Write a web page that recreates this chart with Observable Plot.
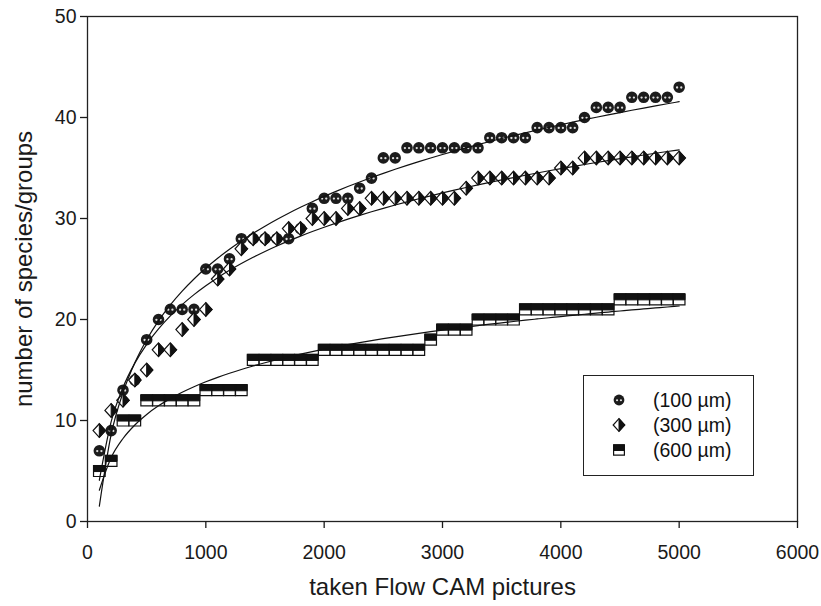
<!DOCTYPE html>
<html><head><meta charset="utf-8">
<script src="https://cdn.jsdelivr.net/npm/d3@7"></script>
<script src="https://cdn.jsdelivr.net/npm/@observablehq/plot@0.6"></script>
<style>
body{margin:0;background:#fff;}
#wrap{position:relative;width:821px;height:606px;font-family:"Liberation Sans",Arial,sans-serif;}
#legend{position:absolute;left:583px;top:375px;width:171px;height:101px;border:1.5px solid #222;box-sizing:border-box;background:#fff;}
.row{position:absolute;left:0;height:24px;font-size:19.5px;color:#111;}
.row svg{position:absolute;left:23px;top:0;}
.row span{position:absolute;left:69px;top:0;line-height:24px;white-space:nowrap;}
</style></head><body><div id="wrap"></div>
<script>
const pictures = [100,200,300,400,500,600,700,800,900,1000,1100,1200,1300,1400,1500,1600,1700,1800,1900,2000,2100,2200,2300,2400,2500,2600,2700,2800,2900,3000,3100,3200,3300,3400,3500,3600,3700,3800,3900,4000,4100,4200,4300,4400,4500,4600,4700,4800,4900,5000];
const s100 = [7,9,13,14,18,20,21,21,21,25,25,26,28,28,28,28,28,29,31,32,32,32,33,34,36,36,37,37,37,37,37,37,37,38,38,38,38,39,39,39,39,40,41,41,41,42,42,42,42,43];
const s300 = [9,11,12,14,15,17,17,19,20,21,24,25,27,28,28,28,29,29,30,30,30,31,31,32,32,32,32,32,32,32,32,33,34,34,34,34,34,34,34,35,35,36,36,36,36,36,36,36,36,36];
const s600 = [5,6,10,10,12,12,12,12,12,13,13,13,13,16,16,16,16,16,16,17,17,17,17,17,17,17,17,17,18,19,19,19,20,20,20,20,21,21,21,21,21,21,21,21,22,22,22,22,22,22];
const seriesNames = ["(100 µm)", "(300 µm)", "(600 µm)"];
const xTicks = [0,1000,2000,3000,4000,5000,6000];
const yTicks = [0,10,20,30,40,50];
const xLabel = "taken Flow CAM pictures";
const yLabel = "number of species/groups";

const rows = pictures.map((x, i) => ({x, a: s100[i], b: s300[i], c: s600[i]}));

// logarithmic least-squares fit y = a + b ln(x), computed from the data
function logFit(ys) {
  const lx = pictures.map(Math.log);
  const mx = d3.mean(lx), my = d3.mean(ys);
  let sxy = 0, sxx = 0;
  lx.forEach((v, i) => { sxy += (v - mx) * (ys[i] - my); sxx += (v - mx) * (v - mx); });
  const b = sxy / sxx, a = my - b * mx;
  return pictures.map(x => a + b * Math.log(x));
}
const fitA = logFit(s100), fitB = logFit(s300), fitC = logFit(s600);

const rOf = s => Math.sqrt(s / Math.PI);
const symCircle = {draw(c, s){const r = rOf(s); c.moveTo(r, 0); c.arc(0, 0, r, 0, 2*Math.PI); c.closePath();}};
const symSpots = {draw(c, s){const r = rOf(s); const q = r*0.2; for (const dx of [-0.36*r, 0.36*r]) { c.moveTo(dx + q, 0.05*r); c.arc(dx, 0.05*r, q, 0, 2*Math.PI); c.closePath(); }}};
const symDiamond = {draw(c, s){const r = rOf(s); const w = r*1.08, h = r*1.18; c.moveTo(0, -h); c.lineTo(w, 0); c.lineTo(0, h); c.lineTo(-w, 0); c.closePath();}};
const symDiamondR = {draw(c, s){const r = rOf(s); const w = r*1.08, h = r*1.18; c.moveTo(0, -h); c.lineTo(w, 0); c.lineTo(0, h); c.closePath();}};
const symSquare = {draw(c, s){const r = rOf(s); const w = r, h = r*0.95; c.rect(-w, -h, 2*w, 2*h);}};
const symSquareTop = {draw(c, s){const r = rOf(s); const w = r, h = r*0.95; c.rect(-w, -h, 2*w, h*1.1);}};

const R = 5.8;
const chart = Plot.plot({
  width: 821, height: 606,
  marginLeft: 87, marginRight: 24, marginTop: 16, marginBottom: 85,
  style: {fontSize: "19.5px", fontFamily: "'Liberation Sans', Arial, sans-serif", color: "#1a1a1a", background: "#fff"},
  x: {domain: [0, 6000]},
  y: {domain: [0, 50]},
  marks: [
    Plot.frame({stroke: "#222", strokeWidth: 1.3}),
    Plot.axisX({ticks: xTicks, tickSize: 7, tickPadding: 17, tickFormat: d3.format("d"), label: null, strokeWidth: 1.3}),
    Plot.axisY({ticks: yTicks, tickSize: 7, tickPadding: 4, label: null, strokeWidth: 1.3}),
    Plot.dot(rows, {x: "x", y: "a", r: R, symbol: symCircle, fill: "#1c1c1c", stroke: "none"}),
    Plot.dot(rows, {x: "x", y: "a", r: R, symbol: symSpots, fill: "#ddd", stroke: "none"}),
    Plot.dot(rows, {x: "x", y: "b", r: R, symbol: symDiamond, fill: "#fff", stroke: "#111", strokeWidth: 1.2}),
    Plot.dot(rows, {x: "x", y: "b", r: R, symbol: symDiamondR, fill: "#111", stroke: "#111", strokeWidth: 1}),
    Plot.dot(rows, {x: "x", y: "c", r: R, symbol: symSquare, fill: "#fff", stroke: "#111", strokeWidth: 1.2}),
    Plot.dot(rows, {x: "x", y: "c", r: R, symbol: symSquareTop, fill: "#111", stroke: "#111", strokeWidth: 1}),
    Plot.line(rows, {x: "x", y: fitA, curve: "monotone-x", stroke: "#111", strokeWidth: 1.2}),
    Plot.line(rows, {x: "x", y: fitB, curve: "monotone-x", stroke: "#111", strokeWidth: 1.2}),
    Plot.line(rows, {x: "x", y: fitC, curve: "monotone-x", stroke: "#111", strokeWidth: 1.2}),
    Plot.text([xLabel], {frameAnchor: "bottom", dy: 73, fontSize: 24, fill: "#1a1a1a"}),
    Plot.text([yLabel], {frameAnchor: "left", textAnchor: "middle", dx: -63, rotate: -90, fontSize: 24, fill: "#1a1a1a"})
  ]
});
const wrap = document.getElementById("wrap");
wrap.appendChild(chart);

// legend
const legend = document.createElement("div");
legend.id = "legend";
wrap.appendChild(legend);
function symPath(sym, r) { const p = d3.path(); sym.draw(p, Math.PI * r * r); return p.toString(); }
const legendSyms = [
  [[symCircle, "#1c1c1c", "none", 0], [symSpots, "#ddd", "none", 0]],
  [[symDiamond, "#fff", "#111", 1.2], [symDiamondR, "#111", "#111", 1]],
  [[symSquare, "#fff", "#111", 1.2], [symSquareTop, "#111", "#111", 1]]
];
seriesNames.forEach((name, i) => {
  const row = document.createElement("div");
  row.className = "row";
  row.style.top = (12 + 25 * i) + "px";
  const svg = d3.create("svg").attr("width", 24).attr("height", 24);
  const g = svg.append("g").attr("transform", "translate(12,12)");
  for (const [sym, fill, stroke, sw] of legendSyms[i]) {
    g.append("path").attr("d", symPath(sym, 5.4)).attr("fill", fill).attr("stroke", stroke).attr("stroke-width", sw);
  }
  row.appendChild(svg.node());
  const span = document.createElement("span");
  span.textContent = name;
  row.appendChild(span);
  legend.appendChild(row);
});
</script></body></html>
